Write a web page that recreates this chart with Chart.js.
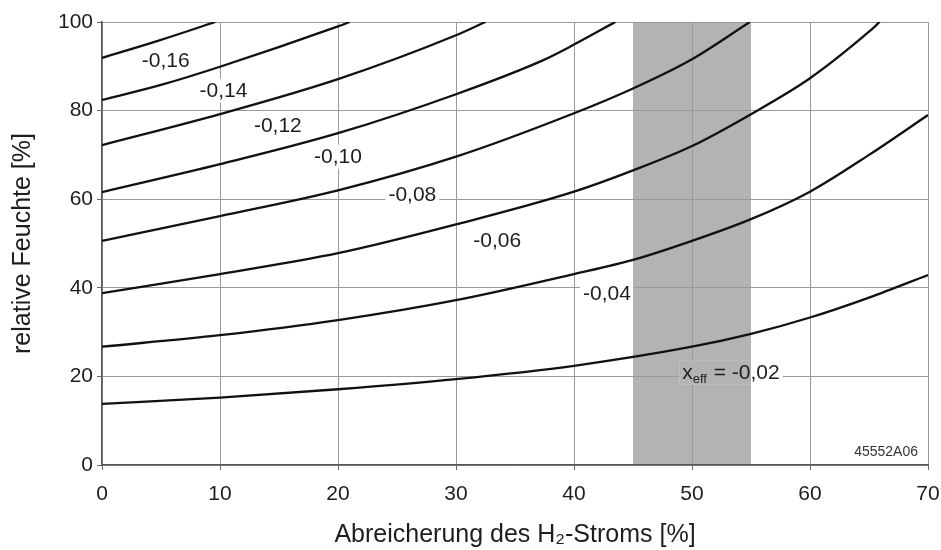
<!DOCTYPE html>
<html>
<head>
<meta charset="utf-8">
<script src="https://cdn.jsdelivr.net/npm/chart.js@4.4.1/dist/chart.umd.min.js"></script>
<style>
  html, body { margin: 0; padding: 0; background: #ffffff; }
  #wrap { width: 941px; height: 550px; }
</style>
</head>
<body>
<div id="wrap"><canvas id="c" width="941" height="550"></canvas></div>
<script>
// ---- data ----
const xTicks = [0, 10, 20, 30, 40, 50, 60, 70];
const yTicks = [0, 20, 40, 60, 80, 100];

const x_002 = [0, 10, 20, 30, 40, 50, 55, 60, 65, 70];
const y_002 = [13.8, 15.2, 17.1, 19.4, 22.4, 26.7, 29.6, 33.3, 37.8, 42.9];

const x_004 = [0, 10, 20, 30, 40, 45, 50, 55, 60, 65, 70];
const y_004 = [26.7, 29.3, 32.7, 37.2, 43.1, 46.3, 50.6, 55.5, 61.7, 70.0, 79.0];

const x_006 = [0, 10, 20, 30, 40, 45, 50, 55, 60, 65, 65.9];
const y_006 = [38.8, 43.1, 47.8, 54.3, 61.7, 66.5, 72.0, 79.2, 87.3, 97.8, 100];

const x_008 = [0, 10, 20, 30, 40, 45, 50, 54.9];
const y_008 = [50.6, 56.2, 62.0, 69.6, 79.4, 85.0, 91.6, 100];

const x_010 = [0, 10, 20, 30, 37.4, 40, 43.5];
const y_010 = [61.6, 67.9, 74.9, 83.7, 91.4, 94.9, 100];

const x_012 = [0, 10, 20, 30, 32.5];
const y_012 = [72.2, 79.2, 87.1, 97.0, 100];

const x_014 = [0, 5, 10, 20, 21];
const y_014 = [82.4, 85.8, 89.9, 99.0, 100];

const x_016 = [0, 4.8, 9.6];
const y_016 = [91.9, 95.8, 100];

const bandX = [45, 55];

const labelText = ['-0,16', '-0,14', '-0,12', '-0,10', '-0,08', '-0,06', '-0,04', '= -0,02'];
const labelX = [5.4, 10.3, 14.9, 20.0, 26.3, 33.5, 42.8, 53.3];
const labelY = [91.4, 84.5, 76.7, 69.6, 61.2, 50.8, 38.8, 20.8];

const xTitle = 'Abreicherung des H\u2082-Stroms [%]';
const yTitle = 'relative Feuchte [%]';
const figCode = '45552A06';

// ---- build datasets ----
function pts(xs, ys) { return xs.map((x, i) => ({ x: x, y: ys[i] })); }
const series = [
  [x_002, y_002], [x_004, y_004], [x_006, y_006], [x_008, y_008],
  [x_010, y_010], [x_012, y_012], [x_014, y_014], [x_016, y_016]
];
const datasets = series.map(s => ({
  data: pts(s[0], s[1]),
  showLine: true,
  borderColor: '#111111',
  borderWidth: 2.3,
  pointRadius: 0,
  cubicInterpolationMode: 'monotone',
  fill: false
}));

const FONT = 'Liberation Sans, Arial, sans-serif';
const TXT = '#1e1e1e';
const BAND = '#b3b3b3';

const bandPlugin = {
  id: 'band',
  beforeDraw(chart) {
    const { ctx, chartArea, scales } = chart;
    const x0 = scales.x.getPixelForValue(bandX[0]);
    const x1 = scales.x.getPixelForValue(bandX[1]);
    ctx.save();
    ctx.fillStyle = BAND;
    ctx.fillRect(x0, chartArea.top, x1 - x0, chartArea.bottom - chartArea.top);
    ctx.restore();
  }
};

const labelPlugin = {
  id: 'curveLabels',
  beforeDatasetsDraw(chart) {
    const { ctx, chartArea, scales } = chart;
    const bx0 = scales.x.getPixelForValue(bandX[0]);
    const bx1 = scales.x.getPixelForValue(bandX[1]);
    ctx.save();
    ctx.textBaseline = 'middle';
    for (let i = 0; i < labelText.length; i++) {
      const cx = scales.x.getPixelForValue(labelX[i]);
      const cy = scales.y.getPixelForValue(labelY[i]);
      const last = (i === labelText.length - 1);
      ctx.font = '21px ' + FONT;
      let w = ctx.measureText(labelText[i]).width;
      let wx = 0, we = 0;
      if (last) {
        wx = ctx.measureText('x').width;
        ctx.font = '13px ' + FONT;
        we = ctx.measureText('eff').width + 1;
        ctx.font = '21px ' + FONT;
        w = wx + we + ctx.measureText(' ' + labelText[i]).width;
      }
      const rx = cx - w / 2 - 3, ry = cy - 12, rw = w + 6, rh = 24;
      ctx.fillStyle = '#ffffff';
      ctx.fillRect(rx, ry, rw, rh);
      const ix0 = Math.max(rx, bx0), ix1 = Math.min(rx + rw, bx1);
      if (ix1 > ix0) {
        ctx.fillStyle = BAND;
        ctx.fillRect(ix0, ry, ix1 - ix0, rh);
      }
      ctx.fillStyle = TXT;
      if (last) {
        let px = cx - w / 2;
        ctx.textAlign = 'left';
        ctx.font = '21px ' + FONT;
        ctx.fillText('x', px, cy);
        px += wx;
        ctx.font = '13px ' + FONT;
        ctx.fillText('eff', px, cy + 7);
        px += we;
        ctx.font = '21px ' + FONT;
        ctx.fillText(' ' + labelText[i], px, cy);
      } else {
        ctx.textAlign = 'center';
        ctx.fillText(labelText[i], cx, cy + 1);
      }
    }
    // figure code
    ctx.font = '14px ' + FONT;
    ctx.textAlign = 'right';
    ctx.fillStyle = '#333333';
    ctx.fillText(figCode, chartArea.right - 10, chartArea.bottom - 13);
    ctx.restore();
  }
};

new Chart(document.getElementById('c'), {
  type: 'scatter',
  data: { datasets: datasets },
  plugins: [bandPlugin, labelPlugin],
  options: {
    responsive: false,
    devicePixelRatio: 1,
    animation: false,
    layout: { padding: { top: 22, right: 0, left: 0, bottom: 0 } },
    plugins: { legend: { display: false }, tooltip: { enabled: false } },
    scales: {
      x: {
        type: 'linear',
        min: 0, max: 70,
        afterBuildTicks(scale) { scale.ticks = xTicks.map(v => ({ value: v })); },
        afterFit(scale) { scale.height = 85; scale.paddingRight = 13; },
        ticks: { color: TXT, font: { family: FONT, size: 21 }, padding: 12 },
        grid: { color: '#9a9a9a', lineWidth: 1, tickLength: 5, tickColor: '#666666' },
        border: { color: '#555555', width: 1.5 },
        title: { display: true, text: xTitle, color: TXT, font: { family: FONT, size: 25 }, padding: { top: 0, bottom: 0 } }
      },
      y: {
        type: 'linear',
        min: 0, max: 100,
        afterBuildTicks(scale) { scale.ticks = yTicks.map(v => ({ value: v })); },
        afterFit(scale) { scale.width = 102; },
        ticks: { color: TXT, font: { family: FONT, size: 21 }, padding: 4 },
        grid: { color: '#9a9a9a', lineWidth: 1, tickLength: 5, tickColor: '#666666' },
        border: { color: '#555555', width: 1.5 },
        title: { display: true, text: yTitle, color: TXT, font: { family: FONT, size: 25 }, padding: { top: 8, bottom: 0 } }
      }
    }
  }
});
</script>
</body>
</html>
